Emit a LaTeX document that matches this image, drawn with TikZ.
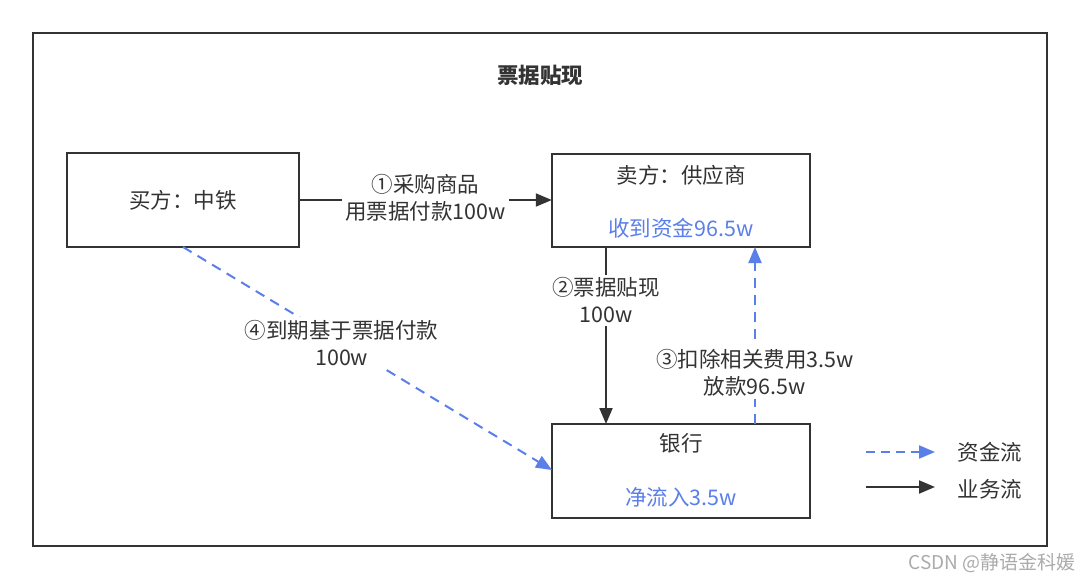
\documentclass[tikz,border=0pt]{standalone}
\usepackage{fontspec}
\setmainfont{Noto Sans CJK SC}
\usetikzlibrary{arrows.meta}
\definecolor{ink}{HTML}{333333}
\definecolor{flowblue}{HTML}{5B7FE8}
\begin{document}
\begin{tikzpicture}[x=1pt,y=-1pt,
  every node/.style={text=ink,font=\fontsize{21.5}{26.5}\selectfont,inner sep=2pt},
  biz/.style={draw=ink,line width=2pt,-{Triangle[length=16pt,width=13pt]}},
  money/.style={draw=flowblue,line width=2pt,dash pattern=on 10pt off 7pt,-{Triangle[length=16pt,width=13pt]}},
  lbl/.style={fill=white,align=center,inner sep=3pt}]
\useasboundingbox (0,0) rectangle (1080,579);
\fill[white] (0,0) rectangle (1080,579);
\draw[ink,line width=2pt] (33,33) rectangle (1047,546);
\node[font=\bfseries\fontsize{21.5}{26}\selectfont] (title) at (540,75) {票据贴现};
% boxes
\draw[ink,line width=2pt] (67,153) rectangle (299,247);
\node (buyer) at (183,200) [minimum width=232pt,minimum height=94pt] {买方：中铁};
\draw[ink,line width=2pt] (552,154) rectangle (810,247);
\node (seller) at (681,200.5) [minimum width=258pt,minimum height=93pt] {};
\node (sellert) at (681,175) {卖方：供应商};
\node[text=flowblue] (sellerm) at (681,228) {收到资金96.5w};
\draw[ink,line width=2pt] (552,424) rectangle (810,518);
\node (bank) at (681,471) [minimum width=258pt,minimum height=94pt] {};
\node (bankt) at (681,443) {银行};
\node[text=flowblue] (bankm) at (681,497) {净流入3.5w};
% connectors
\coordinate (b1) at (buyer.east);
\coordinate (s1) at (seller.west |- b1);
\draw[biz] (b1) -- (s1) node[lbl,midway,yshift=2pt] (l1) {①采购商品\\用票据付款100w};
\coordinate (s2) at (606,247);
\coordinate (k2) at (606,424);
\draw[biz] (s2) -- (k2) node[lbl,pos=0.3] (l2) {②票据贴现\\100w};
\coordinate (k3) at (755,424);
\coordinate (s3) at (755,247);
\draw[money] (k3) -- (s3) node[lbl,pos=0.29] (l3) {③扣除相关费用3.5w\\放款96.5w};
\coordinate (b4) at (183,247);
\coordinate (k4) at (552,470);
\draw[money] (b4) -- (k4) node[lbl,pos=0.43] (l4) {④到期基于票据付款\\100w};
% legend
\coordinate (lg1a) at (866,452);
\coordinate (lg1b) at (935,452);
\draw[money,dash pattern=on 9pt off 6pt] (lg1a) -- (lg1b);
\node (lgt1) at (990,452) {资金流};
\coordinate (lg2a) at (866,487);
\coordinate (lg2b) at (935,487);
\draw[biz] (lg2a) -- (lg2b);
\node (lgt2) at (990,489) {业务流};
% watermark
\node[text=black!33,font=\fontsize{19}{22}\selectfont,anchor=east,inner sep=0pt] (wm) at (1076,563) {CSDN @静语金科媛};
\end{tikzpicture}
\end{document}
